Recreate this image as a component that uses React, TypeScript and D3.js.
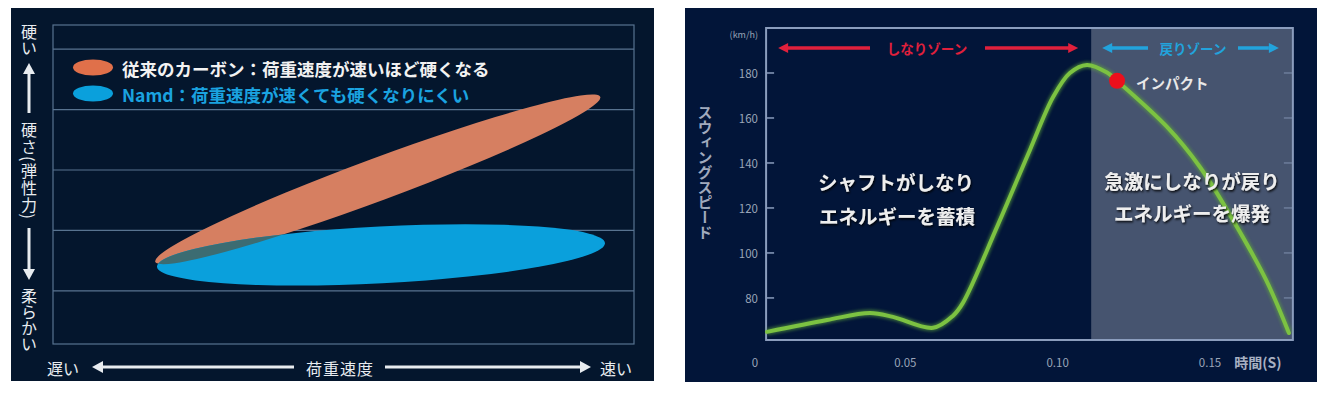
import React from 'react';
import * as d3 from 'd3';

const W = 1329;
const H = 393;
const FONT = '"Noto Sans CJK JP", "Noto Sans", sans-serif';

// ---------- Left chart data (conceptual units) ----------
const loadDomain = [0, 10];
const hardnessDomain = [0.12, 5.4];
const hardnessGrid = [1, 2, 3, 4, 5];
const legendLabels = ['従来のカーボン：荷重速度が速いほど硬くなる', 'Namd：荷重速度が速くても硬くなりにくい'];
const carbonStart = [1.76, 1.48];
const carbonEnd = [9.42, 4.21];
const carbonHalfWidth = 0.35;
const namdStart = [1.79, 1.4];
const namdEnd = [9.5, 1.79];
const namdHalfWidth = 0.47;

// ---------- Right chart data ----------
const timeDomain = [0, 0.15];
const timeTicks = [0, 0.05, 0.1, 0.15];
const timeTickLabels = ['0', '0.05', '0.10', '0.15'];
const speedDomain = [61.3, 200];
const speedTicks = [80, 100, 120, 140, 160, 180];
const plotTimeExtent = [0.0043, 0.1772];
const zoneBoundary = 0.111;
const timeS = [0.0046, 0.0243, 0.0384, 0.0459, 0.0591, 0.0656, 0.0689, 0.0801, 0.0909, 0.0985, 0.104, 0.1096, 0.1162, 0.1195, 0.1359, 0.1467, 0.1575, 0.1684, 0.1759];
const speedKmh = [64.9, 70.2, 73.3, 71.6, 66.7, 72.0, 77.8, 111.6, 145.8, 169.3, 180, 183.6, 180.2, 176.5, 156, 138.2, 114.7, 88, 64.4];
const impactIndex = 13;

const C_ORANGE = '#d67f61';
const C_BLUE = '#0aa0dc';
const C_TEAL = '#3c6c72';

export default function App() {
  const xL = d3.scaleLinear().domain(loadDomain).range([53, 634]);
  const yL = d3.scaleLinear().domain(hardnessDomain).range([344, 25]);
  const ell = (s: number[], e: number[], hw: number) => {
    const x1 = xL(s[0]), y1 = yL(s[1]), x2 = xL(e[0]), y2 = yL(e[1]);
    return {
      cx: (x1 + x2) / 2,
      cy: (y1 + y2) / 2,
      rx: Math.hypot(x2 - x1, y2 - y1) / 2,
      ry: Math.abs(yL(0) - yL(hw)),
      angle: (Math.atan2(y2 - y1, x2 - x1) * 180) / Math.PI,
    };
  };
  const carbon = ell(carbonStart, carbonEnd, carbonHalfWidth);
  const namd = ell(namdStart, namdEnd, namdHalfWidth);
  const ellEl = (p: any, fill: string, extra: any = {}) => (
    <ellipse cx={0} cy={0} rx={p.rx} ry={p.ry} fill={fill}
      transform={`translate(${p.cx},${p.cy}) rotate(${p.angle})`} {...extra} />
  );

  const xR = d3.scaleLinear().domain(timeDomain).range([753, 1210]);
  const yR = d3.scaleLinear().domain(speedDomain).range([340, 28]);
  const px0 = xR(plotTimeExtent[0]);
  const px1 = xR(plotTimeExtent[1]);
  const pyTop = yR(speedDomain[1]);
  const pyBot = yR(speedDomain[0]);
  const xz = xR(zoneBoundary);
  const pts = timeS.map((t, i) => [t, speedKmh[i]] as [number, number]);
  const line = d3.line<[number, number]>().x(d => xR(d[0])).y(d => yR(d[1])).curve(d3.curveCatmullRom.alpha(0.5));
  const curveD = line(pts) || '';

  const white = '#e8ecf0';
  const gridC = '#587390';
  const axisC = '#8b9dbd';
  const tickTxt = '#9aa5b8';

  const zoneArrowY = 48;

  return (
    <svg width={W} height={H} style={{ position: 'absolute', left: 0, top: 0 }} fontFamily={FONT}>
      <defs>
        <clipPath id="namdClip">{ellEl(namd, '#000')}</clipPath>
        <filter id="ts" x="-10%" y="-30%" width="120%" height="160%">
          <feDropShadow dx="1" dy="1.5" stdDeviation="1.3" floodColor="#000" floodOpacity="0.95" />
        </filter>
        <filter id="glow" x="-10%" y="-10%" width="120%" height="120%">
          <feGaussianBlur stdDeviation="1.5" />
        </filter>
      </defs>
      <rect width={W} height={H} fill="#ffffff" />

      {/* ================= LEFT PANEL ================= */}
      <rect x={11} y={8} width={643} height={373} fill="#04162d" />
      <rect x={xL(loadDomain[0])} y={yL(hardnessDomain[1])} width={xL(loadDomain[1]) - xL(loadDomain[0])}
        height={yL(hardnessDomain[0]) - yL(hardnessDomain[1])} fill="none" stroke={gridC} strokeWidth={1.2} />
      {hardnessGrid.map(v => (
        <line key={v} x1={xL(loadDomain[0])} x2={xL(loadDomain[1])} y1={yL(v)} y2={yL(v)} stroke={gridC} strokeWidth={1.2} />
      ))}
      {ellEl(carbon, C_ORANGE)}
      {ellEl(namd, C_BLUE)}
      <g clipPath="url(#namdClip)">{ellEl(carbon, C_TEAL)}</g>

      {/* legend */}
      <ellipse cx={93} cy={67.5} rx={20} ry={8} fill="#e0704a" />
      <ellipse cx={93} cy={93.5} rx={20} ry={8} fill={C_BLUE} />
      <text x={122} y={68} dominantBaseline="central" fontSize={17.5} fontWeight={700} fill="#f2f2f2">{legendLabels[0]}</text>
      <text x={122} y={94} dominantBaseline="central" fontSize={17.5} fontWeight={700} fill="#1aa3e0">{legendLabels[1]}</text>

      {/* y axis labels (vertical) */}
      <g fill={white} fontSize={16}>
        <text x={29} y={40} textAnchor="middle" style={{ writingMode: 'vertical-rl' }}>硬い</text>
        <text x={29} y={171} textAnchor="middle" style={{ writingMode: 'vertical-rl' }} letterSpacing={1}>硬さ(弾性力)</text>
        <text x={29} y={320} textAnchor="middle" style={{ writingMode: 'vertical-rl' }}>柔らかい</text>
      </g>
      <line x1={29} x2={29} y1={72} y2={113} stroke={white} strokeWidth={3} />
      <polygon points="29,63 23,74 35,74" fill={white} />
      <line x1={29} x2={29} y1={228} y2={270} stroke={white} strokeWidth={3} />
      <polygon points="29,280 23,269 35,269" fill={white} />

      {/* x axis labels */}
      <g fill={white} fontSize={16}>
        <text x={63} y={368} textAnchor="middle" dominantBaseline="central">遅い</text>
        <text x={340} y={368} textAnchor="middle" dominantBaseline="central" letterSpacing={1}>荷重速度</text>
        <text x={616} y={368} textAnchor="middle" dominantBaseline="central">速い</text>
      </g>
      <line x1={101} x2={294} y1={367} y2={367} stroke={white} strokeWidth={3} />
      <polygon points="92,367 103,361 103,373" fill={white} />
      <line x1={385} x2={581} y1={367} y2={367} stroke={white} strokeWidth={3} />
      <polygon points="591,367 580,361 580,373" fill={white} />

      {/* ================= RIGHT PANEL ================= */}
      <rect x={685} y={8} width={632} height={374} fill="#021539" />
      <rect x={xz} y={pyTop} width={px1 - xz} height={pyBot - pyTop} fill="#46546f" />
      <path d={`M${px0},${pyBot} L${px0},${pyTop} L${px1},${pyTop} L${px1},${pyBot} Z`} fill="none" stroke={axisC} strokeWidth={2} />
      {speedTicks.map(v => (
        <g key={v}>
          <line x1={px0} x2={px0 + 8} y1={yR(v)} y2={yR(v)} stroke={axisC} strokeWidth={1.5} />
          <line x1={px1 - 9} x2={px1} y1={yR(v)} y2={yR(v)} stroke={axisC} strokeWidth={1.2} opacity={0.7} />
          <text x={758} y={yR(v)} textAnchor="end" dominantBaseline="central" fontSize={11.5} fill={tickTxt}>{v}</text>
        </g>
      ))}
      <text x={758} y={34} textAnchor="end" dominantBaseline="central" fontSize={9} fill={tickTxt}>(km/h)</text>
      {timeTicks.map((t, i) => (
        <text key={t} x={xR(t) + (i === 0 ? 2 : 0)} y={362} textAnchor="middle" dominantBaseline="central" fontSize={11.5} fill={tickTxt}>{timeTickLabels[i]}</text>
      ))}
      <text x={1258} y={362} textAnchor="middle" dominantBaseline="central" fontSize={14} fontWeight={700} fill="#a7b0c2">時間(S)</text>
      <text x={705} y={172} textAnchor="middle" fontSize={15} fontWeight={700} fill="#a0aabd" style={{ writingMode: 'vertical-rl' }}>スウィングスピード</text>

      {/* zone arrows */}
      <g>
        <line x1={px0 + 20} x2={870} y1={zoneArrowY} y2={zoneArrowY} stroke="#e0203c" strokeWidth={3.5} />
        <polygon points={`${px0 + 12},${zoneArrowY} ${px0 + 22},${zoneArrowY - 5} ${px0 + 22},${zoneArrowY + 5}`} fill="#e0203c" />
        <text x={927} y={zoneArrowY} textAnchor="middle" dominantBaseline="central" fontSize={13.5} fontWeight={700} fill="#e0203c">しなりゾーン</text>
        <line x1={985} x2={xz - 22} y1={zoneArrowY} y2={zoneArrowY} stroke="#e0203c" strokeWidth={3.5} />
        <polygon points={`${xz - 13},${zoneArrowY} ${xz - 23},${zoneArrowY - 5} ${xz - 23},${zoneArrowY + 5}`} fill="#e0203c" />

        <line x1={xz + 20} x2={1148} y1={zoneArrowY} y2={zoneArrowY} stroke="#22a3dc" strokeWidth={3.5} />
        <polygon points={`${xz + 11},${zoneArrowY} ${xz + 21},${zoneArrowY - 5} ${xz + 21},${zoneArrowY + 5}`} fill="#22a3dc" />
        <text x={1193} y={zoneArrowY} textAnchor="middle" dominantBaseline="central" fontSize={13.5} fontWeight={700} fill="#22a3dc">戻りゾーン</text>
        <line x1={1238} x2={px1 - 24} y1={zoneArrowY} y2={zoneArrowY} stroke="#22a3dc" strokeWidth={3.5} />
        <polygon points={`${px1 - 14},${zoneArrowY} ${px1 - 24},${zoneArrowY - 5} ${px1 - 24},${zoneArrowY + 5}`} fill="#22a3dc" />
      </g>

      {/* speed curve */}
      <path d={curveD} fill="none" stroke="#5fa83a" strokeWidth={7} opacity={0.55} filter="url(#glow)" />
      <path d={curveD} fill="none" stroke="#7cc242" strokeWidth={4} strokeLinecap="round" />

      {/* impact */}
      <circle cx={xR(timeS[impactIndex])} cy={yR(speedKmh[impactIndex])} r={8} fill="#ec0f1c" />
      <text x={1136} y={82} dominantBaseline="central" fontSize={14.5} fontWeight={700} fill="#e8e8e8">インパクト</text>

      {/* text blocks (drawn over the curve) */}
      <g fontSize={19.5} fontWeight={700} fill="#eeeeee" filter="url(#ts)" textAnchor="middle">
        <text x={896} y={181} dominantBaseline="central">シャフトがしなり</text>
        <text x={897} y={215} dominantBaseline="central">エネルギーを蓄積</text>
        <text x={1192} y={180} dominantBaseline="central">急激にしなりが戻り</text>
        <text x={1192} y={212} dominantBaseline="central">エネルギーを爆発</text>
      </g>
    </svg>
  );
}
